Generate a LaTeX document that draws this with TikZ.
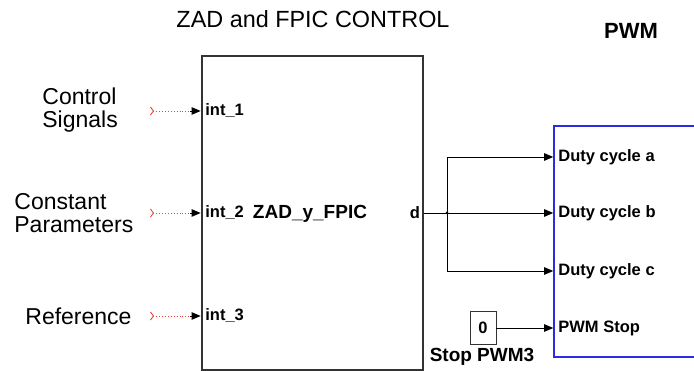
\documentclass[tikz,border=0pt]{standalone}
\usepackage{fontspec}
\setmainfont{Liberation Sans}
\usetikzlibrary{arrows.meta, positioning, calc}
\definecolor{cred}{HTML}{E8413C}
\definecolor{cblue}{HTML}{2B2BE6}
\definecolor{cgrey}{HTML}{333333}
\tikzset{
  every picture/.style={line width=0.8pt},
  block/.style={draw=cgrey, line width=2.8pt, minimum width=221pt, minimum height=314pt, inner sep=0pt},
  port/.style={font=\fontsize{16.5}{16.5}\selectfont\bfseries, inner sep=2pt},
  sig/.style={font=\fontsize{23}{23.5}\selectfont, align=left, inner sep=0pt},
  wire/.style={-{Triangle[length=9pt, width=7.5pt]}, draw=black, line width=0.8pt},
  stub/.style={draw=cred, dotted, line width=0.9pt, {Straight Barb[reversed, length=3pt, width=8pt]}-},
}

\begin{document}
\begin{tikzpicture}[x=1pt, y=1pt]
  \useasboundingbox (0,0) rectangle (694,371);
  \node[font=\fontsize{23.4}{23.4}\selectfont] (title) at (313,352) {ZAD and FPIC CONTROL};
  \node[font=\fontsize{22}{22}\selectfont\bfseries] (pwmt) at (631,340) {PWM};
  % subsystem block
  \node[block] (zad) at (312.5,158) {};
  \node[font=\fontsize{19}{19}\selectfont\bfseries] (core) at (310,157) {ZAD\_y\_FPIC};
  \node[port, anchor=east] (d) at ([xshift=-2pt]zad.east) {d};
  \node[sig, anchor=west] (ctrl) at (42,261) {Control\\Signals};
  \node[sig, anchor=west] (cnst) at (14,158) {Constant\\Parameters};
  \node[sig, anchor=west] (ref) at (25,55) {Reference};
  \foreach \n/\y in {1/260, 2/158, 3/55} {
    \node[port, anchor=west] (int\n) at (203,\y) {int\_\n};
    \coordinate (a\n) at (150,\y);
    \coordinate (b\n) at (190,\y);
    \draw[stub] (a\n) -- (b\n);
    \draw[wire] (b\n) -- (zad.west |- a\n);
  }
  % PWM block
  \node[draw=cblue, line width=1.6pt, minimum width=146pt, minimum height=231pt] (pwm) at (627,129.5) {};
  \foreach \n/\t/\y in {a/Duty cycle a/214, b/Duty cycle b/158, c/Duty cycle c/100, s/PWM Stop/43}
    \node[port, anchor=west] (p\n) at (556,\y) {\t};
  \coordinate (j) at (447,158);
  \draw (zad.east) -- (j);
  \fill (j) circle (1.5pt);
  \draw[wire] (j) |- (pwm.west |- pa);
  \draw[wire] (j) -- (pwm.west |- pb);
  \draw[wire] (j) |- (pwm.west |- pc);
  \node[port, draw=cgrey, line width=0.8pt, minimum width=26pt, minimum height=33pt] (zero) at (483,43) {0};
  \node[port, font=\fontsize{19}{19}\selectfont\bfseries] (stop) at (482,14) {Stop PWM3};
  \draw[wire] (zero) -- (pwm.west |- ps);
\end{tikzpicture}
\end{document}
